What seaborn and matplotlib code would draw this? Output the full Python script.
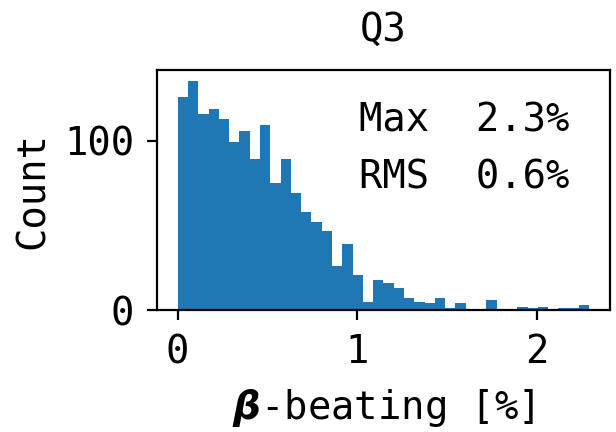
import numpy as np
import pandas as pd
import matplotlib
matplotlib.use('Agg')
import matplotlib.pyplot as plt
import seaborn as sns

# bar heights, 40 bins from 0 to 2.29 %
counts = [126, 135, 116, 119, 113, 99, 106, 89, 109, 75,
          89, 69, 58, 52, 47, 26, 39, 21, 5, 18,
          16, 13, 7, 5, 4, 7, 1, 4, 0, 0,
          6, 0, 0, 2, 1, 2, 0, 1, 1, 3]
edge_min, edge_max = 0.0, 2.29
title = 'Q3'
max_txt = 'Max  2.3%'
rms_txt = 'RMS  0.6%'

edges = np.linspace(edge_min, edge_max, len(counts) + 1)
df = pd.DataFrame({'beat': (edges[:-1] + edges[1:]) / 2, 'n': counts})

plt.rcParams['font.family'] = ['DejaVu Sans Mono']
plt.rcParams['font.size'] = 14
plt.rcParams['mathtext.fontset'] = 'dejavusans'
plt.rcParams['xtick.major.pad'] = 4.8
plt.rcParams['ytick.major.pad'] = 4.8

fig = plt.figure(figsize=(3.08, 2.16), dpi=200)
ax = fig.add_axes([0.255, 0.282, 0.735, 0.556])

sns.histplot(data=df, x='beat', weights='n', bins=list(edges), ax=ax,
             color='#1f77b4', alpha=1, linewidth=0)

ax.set_title(title, fontsize=14, pad=10.5)
ax.set_ylabel('Count', labelpad=4.5)
ax.set_xlabel(r'$\boldsymbol{\beta}$-beating [%]', labelpad=5.5)
ax.set_yticks([0, 100])
ax.set_xticks([0, 1, 2])
ax.text(0.445, 0.743, max_txt, transform=ax.transAxes, ha='left', va='baseline')
ax.text(0.445, 0.508, rms_txt, transform=ax.transAxes, ha='left', va='baseline')

fig.savefig('out.png', dpi=200)
